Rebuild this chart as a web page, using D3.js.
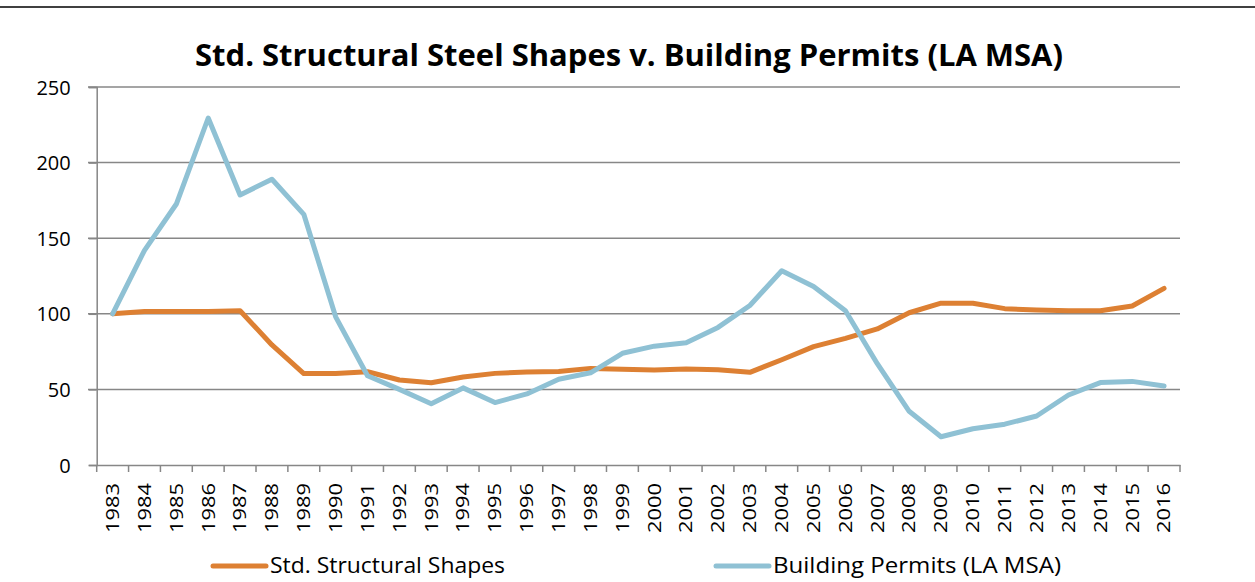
<!DOCTYPE html>
<html><head><meta charset="utf-8">
<script src="https://cdn.jsdelivr.net/npm/d3@7"></script>
<style>body{margin:0;background:#fff}svg{display:block}text{font-family:"Open Sans","Liberation Sans",sans-serif}</style>
</head><body>
<script>
const years = ["1983","1984","1985","1986","1987","1988","1989","1990","1991","1992","1993","1994","1995","1996","1997","1998","1999","2000","2001","2002","2003","2004","2005","2006","2007","2008","2009","2010","2011","2012","2013","2014","2015","2016"];
const steel = [100,101.5,101.5,101.6,102,79.4,60.5,60.5,61.7,56.2,54.4,58.2,60.6,61.5,61.8,63.9,63.3,62.8,63.5,63,61.3,69.6,78.3,83.8,90,100.7,107,107,103.4,102.5,102,102,105.2,116.8];
const permits = [100,142,172.6,229.5,178.6,189,165.8,98,59,50,40.5,51,41.3,47,56.7,61,73.9,78.6,80.9,91,105.5,128.5,118,102,67,35.5,18.7,24,27,32.4,46.3,54.5,55.3,52.2];
const yTicks = [0,50,100,150,200,250];
const seriesNames = ["Std. Structural Shapes","Building Permits (LA MSA)"];
const colors = ["#DD8033","#8FC1D4"];
const title = "Std. Structural Steel Shapes v. Building Permits (LA MSA)";

const W=1255,H=582;
const svg=d3.select("body").append("svg").attr("width",W).attr("height",H);
svg.append("line").attr("x1",0).attr("x2",W).attr("y1",7).attr("y2",7).attr("stroke","#000").attr("stroke-width",1.5);

const x=d3.scaleBand().domain(years).range([96.7,1180]);
const y=d3.scaleLinear().domain([0,250]).range([465,87]);

svg.append("text").attr("x",629).attr("y",66).attr("text-anchor","middle")
  .attr("font-size",30).attr("font-weight","bold").attr("textLength",868).attr("lengthAdjust","spacingAndGlyphs").text(title);

// gridlines
svg.append("g").selectAll("line").data(yTicks.filter(d=>d>0)).join("line")
  .attr("x1",88).attr("x2",1180).attr("y1",d=>y(d)).attr("y2",d=>y(d))
  .attr("stroke","#878787").attr("stroke-width",1.5);

// y axis
const ya=svg.append("g").attr("transform","translate(96.7,0)").call(d3.axisLeft(y).tickValues(yTicks).tickSize(8).tickPadding(18));
ya.select(".domain").attr("stroke","#878787").attr("stroke-width",1.5);
ya.selectAll(".tick line").attr("stroke","#878787").attr("stroke-width",1.5);
ya.selectAll("text").attr("font-size",20).attr("fill","#000").attr("dy","0.35em").attr("font-family","'Open Sans',sans-serif");

// x axis
const xa=svg.append("g").attr("transform","translate(0,465)").call(d3.axisBottom(x).tickSize(0).tickPadding(0));
xa.select(".domain").attr("stroke","#878787").attr("stroke-width",1.5);
const bounds=years.map(d=>x(d)).concat([x.range()[1]]);
svg.append("g").selectAll("line").data(bounds).join("line")
  .attr("x1",d=>d).attr("x2",d=>d).attr("y1",465).attr("y2",472)
  .attr("stroke","#878787").attr("stroke-width",1.5);
xa.selectAll(".tick text").attr("font-size",18).attr("fill","#000")
  .attr("text-anchor","end").attr("transform","rotate(-90)")
  .attr("x",-18).attr("y",0).attr("dy","0.35em").attr("font-family","'Open Sans',sans-serif")
  .attr("textLength",50).attr("lengthAdjust","spacingAndGlyphs");

const line=d3.line().x((d,i)=>x(years[i])+x.bandwidth()/2).y(d=>y(d));
[steel,permits].forEach((s,k)=>{
  svg.append("path").datum(s).attr("d",line).attr("fill","none")
    .attr("stroke",colors[k]).attr("stroke-width",5).attr("stroke-linejoin","round").attr("stroke-linecap","round");
});

// legend
const legX=[213,716];
const legW=[235,288];
seriesNames.forEach((n,k)=>{
  svg.append("line").attr("x1",legX[k]).attr("x2",legX[k]+53).attr("y1",566).attr("y2",566)
    .attr("stroke",colors[k]).attr("stroke-width",5).attr("stroke-linecap","round");
  svg.append("text").attr("x",legX[k]+57).attr("y",573).attr("font-size",21).attr("fill","#000")
    .attr("textLength",legW[k]).attr("lengthAdjust","spacingAndGlyphs").text(n);
});
</script>
</body></html>
